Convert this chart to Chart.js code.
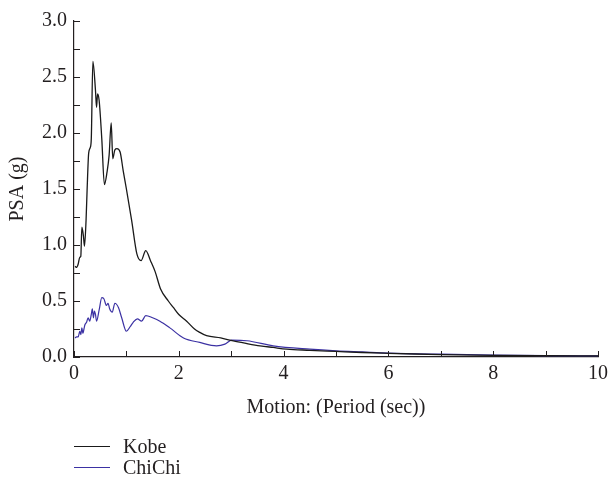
<!DOCTYPE html>
<html>
<head>
<meta charset="utf-8">
<script src="https://cdn.jsdelivr.net/npm/chart.js@4.4.1/dist/chart.umd.min.js"></script>
<style>
  body { margin: 0; background: #fff; }
  #wrap { position: relative; width: 608px; height: 482px; overflow: hidden; }
  #legend { position: absolute; left: 74px; top: 436px; font: 20px "Liberation Serif", serif; color: #231f20; }
  .item { display: flex; align-items: center; height: 21px; }
  .swatch { width: 36px; margin-right: 13px; border-top: 1.3px solid; }
</style>
</head>
<body>
<div id="wrap">
  <canvas id="psaChart" width="608" height="482"></canvas>
  <div id="legend"></div>
</div>
<script>
// Periods (sec) and spectral acceleration (g)
const kobePeriod = [0.02, 0.05, 0.08, 0.11, 0.13, 0.15, 0.18, 0.20, 0.23, 0.25, 0.28, 0.31, 0.33, 0.36, 0.41, 0.43, 0.45, 0.48, 0.53, 0.58, 0.63, 0.67, 0.71, 0.74, 0.78, 0.82, 0.88, 0.94, 1.0, 1.1, 1.2, 1.28, 1.37, 1.46, 1.55, 1.65, 1.8, 1.9, 2.0, 2.15, 2.3, 2.4, 2.53, 2.8, 3.04, 3.3, 3.55, 3.8, 4.06, 4.5, 5, 5.5, 6, 6.5, 7, 8, 9, 10];
const kobeValues = [0.81, 0.80, 0.83, 0.89, 0.90, 1.16, 1.08, 0.99, 1.22, 1.49, 1.82, 1.87, 1.95, 2.64, 2.38, 2.23, 2.35, 2.29, 1.95, 1.54, 1.65, 1.80, 2.09, 1.77, 1.85, 1.86, 1.83, 1.66, 1.50, 1.22, 0.92, 0.86, 0.95, 0.86, 0.76, 0.61, 0.50, 0.44, 0.38, 0.32, 0.25, 0.22, 0.19, 0.17, 0.143, 0.12, 0.10, 0.085, 0.07, 0.06, 0.05, 0.04, 0.033, 0.027, 0.022, 0.015, 0.012, 0.01];

const chichiPeriod = [0.02, 0.05, 0.08, 0.11, 0.13, 0.15, 0.17, 0.19, 0.21, 0.24, 0.27, 0.30, 0.33, 0.35, 0.37, 0.39, 0.41, 0.43, 0.48, 0.53, 0.57, 0.62, 0.65, 0.68, 0.73, 0.78, 0.85, 0.91, 1.0, 1.07, 1.13, 1.21, 1.29, 1.37, 1.5, 1.64, 1.83, 2.09, 2.4, 2.72, 2.88, 3.01, 3.3, 3.8, 4.5, 5, 5.5, 6, 7, 8, 9, 10];
const chichiValues = [0.17, 0.18, 0.18, 0.23, 0.20, 0.26, 0.21, 0.25, 0.29, 0.31, 0.35, 0.32, 0.38, 0.43, 0.35, 0.41, 0.38, 0.32, 0.42, 0.53, 0.52, 0.46, 0.48, 0.43, 0.40, 0.48, 0.44, 0.35, 0.23, 0.27, 0.31, 0.34, 0.32, 0.37, 0.35, 0.32, 0.26, 0.17, 0.13, 0.10, 0.115, 0.15, 0.145, 0.10, 0.07, 0.055, 0.045, 0.035, 0.025, 0.018, 0.013, 0.01];

const seriesNames = ['Kobe', 'ChiChi'];
const seriesColors = ['#1a1a1a', '#3b31a3'];

const textColor = '#231f20';
const serif = '"Liberation Serif", "Times New Roman", serif';
const fontSize = 20;

const toPoints = (xs, ys) => xs.map((x, i) => ({ x: x, y: ys[i] }));

// Chart.js has no inward ticks, so draw them ourselves
const inwardTicks = {
  id: 'inwardTicks',
  afterDraw(chart) {
    const ctx = chart.ctx;
    const { x, y } = chart.scales;
    const len = 6;
    ctx.save();
    ctx.strokeStyle = textColor;
    ctx.lineWidth = 1;
    ctx.beginPath();
    x.ticks.forEach(t => {
      const px = Math.round(x.getPixelForValue(t.value)) + 0.5;
      ctx.moveTo(px, y.bottom);
      ctx.lineTo(px, y.bottom - len);
    });
    y.ticks.forEach(t => {
      const py = Math.round(y.getPixelForValue(t.value)) + 0.5;
      ctx.moveTo(x.left, py);
      ctx.lineTo(x.left + len, py);
    });
    ctx.stroke();
    ctx.restore();
  }
};

const ctx = document.getElementById('psaChart').getContext('2d');
const chart = new Chart(ctx, {
  type: 'line',
  data: {
    datasets: [
      {
        label: seriesNames[0],
        data: toPoints(kobePeriod, kobeValues),
        borderColor: seriesColors[0],
        borderWidth: 1.3,
        pointRadius: 0,
        cubicInterpolationMode: 'monotone'
      },
      {
        label: seriesNames[1],
        data: toPoints(chichiPeriod, chichiValues),
        borderColor: seriesColors[1],
        borderWidth: 1.2,
        pointRadius: 0,
        cubicInterpolationMode: 'monotone'
      }
    ]
  },
  options: {
    responsive: false,
    animation: false,
    layout: { padding: { left: 0, right: 0, top: 0, bottom: 62 } },
    plugins: { legend: { display: false }, tooltip: { enabled: false } },
    scales: {
      x: {
        type: 'linear',
        min: 0,
        max: 10,
        grid: { display: false, drawTicks: false },
        border: { display: true, color: textColor, width: 1.2 },
        ticks: {
          stepSize: 1,
          color: textColor,
          font: { family: serif, size: fontSize },
          maxRotation: 0,
          padding: 5,
          callback: v => (v % 2 === 0 ? String(v) : '')
        },
        title: {
          display: true,
          text: 'Motion: (Period (sec))',
          color: textColor,
          font: { family: serif, size: fontSize },
          padding: { top: 5, bottom: 0 }
        },
        afterFit(scale) { scale.paddingLeft = 0; scale.paddingRight = 10; }
      },
      y: {
        min: 0,
        max: 3,
        grid: { display: false, drawTicks: false },
        border: { display: true, color: textColor, width: 1.2 },
        ticks: {
          stepSize: 0.25,
          color: textColor,
          font: { family: serif, size: fontSize },
          padding: 7,
          callback: v => (Math.abs(v * 2 - Math.round(v * 2)) < 1e-6 ? v.toFixed(1) : '')
        },
        title: {
          display: true,
          text: 'PSA (g)',
          color: textColor,
          font: { family: serif, size: fontSize },
          padding: { top: 6, bottom: 0 }
        },
        afterFit(scale) { scale.width = 74; scale.paddingTop = 21; scale.paddingBottom = 0; }
      }
    }
  },
  plugins: [inwardTicks]
});

// Legend stacked vertically under the axis title
const legend = document.getElementById('legend');
chart.data.datasets.forEach(ds => {
  const row = document.createElement('div');
  row.className = 'item';
  const sw = document.createElement('span');
  sw.className = 'swatch';
  sw.style.borderColor = ds.borderColor;
  const label = document.createElement('span');
  label.textContent = ds.label;
  row.appendChild(sw);
  row.appendChild(label);
  legend.appendChild(row);
});
</script>
</body>
</html>
